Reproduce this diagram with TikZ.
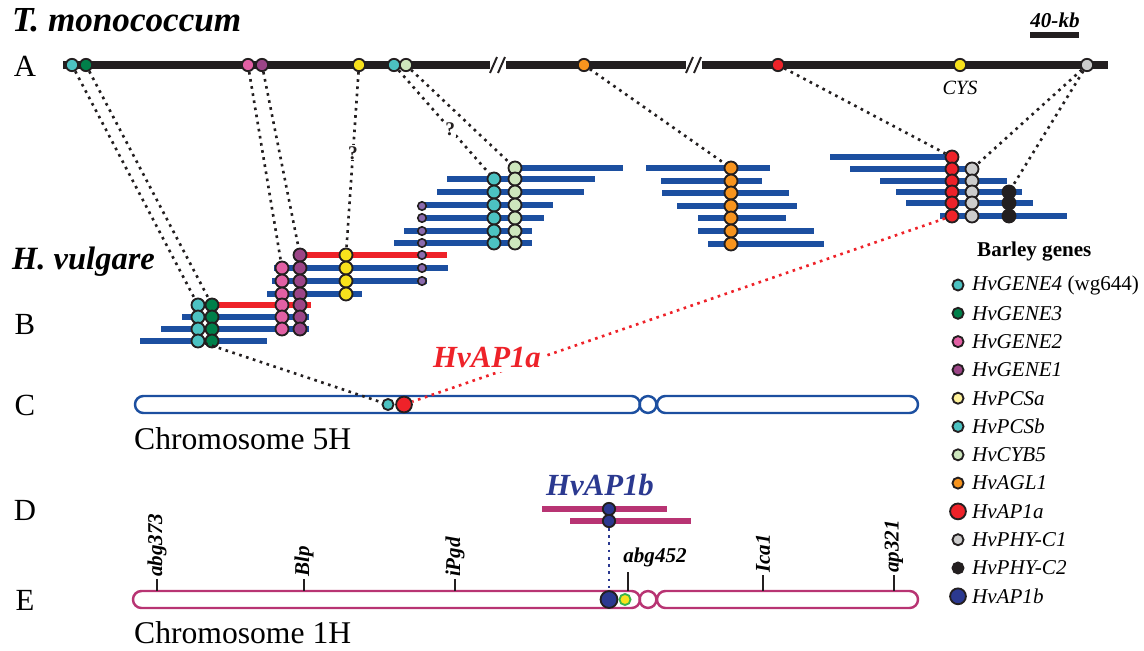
\documentclass[tikz,border=0pt]{standalone}
\usepackage{fontspec}
\setmainfont{Liberation Serif}
\definecolor{cteal}{HTML}{4CC2C2}
\definecolor{cgreen}{HTML}{00804A}
\definecolor{cpink}{HTML}{E260A4}
\definecolor{cpurple}{HTML}{9C4587}
\definecolor{cyellow}{HTML}{F8E21C}
\definecolor{cpale}{HTML}{FFF29A}
\definecolor{clight}{HTML}{CDE6BD}
\definecolor{corange}{HTML}{F7941E}
\definecolor{cred}{HTML}{EE2229}
\definecolor{cgray}{HTML}{CCCCCC}
\definecolor{cblack}{HTML}{231F20}
\definecolor{cnavy}{HTML}{2B3990}
\definecolor{cbac}{HTML}{1C4FA0}
\definecolor{cmag}{HTML}{B83473}
\definecolor{clilac}{HTML}{8B6BAE}
\definecolor{cgreenring}{HTML}{39B54A}
\begin{document}
\begin{tikzpicture}[x=0.02cm,y=-0.02cm,
	dot/.style={circle,draw=cblack,line width=1.05pt,inner sep=0pt,minimum size=7.4pt},
	adot/.style={dot,minimum size=7pt},
	sdot/.style={dot,minimum size=4.8pt,line width=0.9pt},
	ldot/.style={dot,minimum size=6.3pt},
	bdot/.style={dot,minimum size=9pt},
	bac/.style={cbac,line width=3.4pt},
	redbac/.style={cred,line width=3.4pt},
	magbac/.style={cmag,line width=3.4pt},
	chrom/.style={line width=1.4pt,rounded corners=4.8pt},
	conn/.style={cblack,line width=1.5pt,dash pattern=on 1.5pt off 2.6pt},
	rowlab/.style={font=\fontsize{17.5}{18}\selectfont},
	species/.style={font=\fontsize{20}{22}\selectfont\bfseries\itshape,anchor=west},
	marker/.style={font=\fontsize{12}{12}\selectfont\bfseries\itshape,inner sep=1pt},
	keytext/.style={font=\fontsize{12}{12}\selectfont\itshape,inner sep=1pt},
	qmark/.style={font=\fontsize{11}{11}\selectfont\bfseries,fill=white,inner sep=0.5pt}]
\useasboundingbox (0,0) rectangle (1144,650);

% labels
\node[species] (tmono) at (6,20) {T. monococcum};
\node[species,font=\fontsize{18.5}{20}\selectfont\bfseries\itshape] (hvulg) at (6,262) {H. vulgare};
\node[rowlab] (labA) at (25,66) {A};
\node[rowlab] (labB) at (25,324) {B};
\node[rowlab] (labC) at (25,405) {C};
\node[rowlab] (labD) at (25,510) {D};
\node[rowlab] (labE) at (25,600) {E};

% scale bar
\node[marker] (kb) at (1055,20) {40-kb};
\draw[cblack,line width=3.4pt] (1030,35) -- (1079,35);

% T. monococcum contig
\draw[cblack,line width=4pt] (63,65) -- (490,65);
\draw[cblack,line width=4pt] (506,65) -- (686,65);
\draw[cblack,line width=4pt] (702,65) -- (1108,65);
\draw[cblack,line width=1.1pt] (490,73) -- (497,57) (498,73) -- (505,57);
\draw[cblack,line width=1.1pt] (686,73) -- (693,57) (694,73) -- (701,57);
\node[adot,fill=cteal] (aG4) at (72,65) {};
\node[adot,fill=cgreen] (aG3) at (86,65) {};
\node[adot,fill=cpink] (aG2) at (248,65) {};
\node[adot,fill=cpurple] (aG1) at (262,65) {};
\node[adot,fill=cyellow] (aPCSa) at (359,65) {};
\node[adot,fill=cteal] (aPCSb) at (394,65) {};
\node[adot,fill=clight] (aCYB) at (406,65) {};
\node[adot,fill=corange] (aAGL) at (584,65) {};
\node[adot,fill=cred] (aAP) at (778,65) {};
\node[adot,fill=cyellow] (aCYS) at (960,65) {};
\node[adot,fill=cgray] (aPHY) at (1087,65) {};
\node[font=\fontsize{11.5}{12}\selectfont\itshape] (cys) at (960,88) {CYS};

% barley BAC clones
\draw[redbac] (191,305) -- (311,305);
\foreach \y/\a/\b in {317/182/309,329/161/309,341/140/267}
	\draw[bac] (\a,\y) -- (\b,\y);
\draw[redbac] (293,255) -- (447,255);
\foreach \y/\a/\b in {268/274/448,281/272/427,294/267/362}
	\draw[bac] (\a,\y) -- (\b,\y);
\foreach \y/\a/\b in {168/515/623,179/447/595,192/437/584,205/422/553,218/422/544,231/404/532,243/394/532}
	\draw[bac] (\a,\y) -- (\b,\y);
\foreach \y/\a/\b in {168/646/770,181/661/762,193/662/789,206/677/797,218/698/786,231/698/814,244/708/824}
	\draw[bac] (\a,\y) -- (\b,\y);
\foreach \y/\a/\b in {157/830/952,169/850/970,181/880/1007,192/896/1022,203/906/1033,216/940/1067}
	\draw[bac] (\a,\y) -- (\b,\y);

% genes on the BACs
\foreach \y [count=\i] in {305,317,329,341} {
	\node[dot,fill=cteal] (g4-\i) at (198,\y) {};
	\node[dot,fill=cgreen] (g3-\i) at (212,\y) {};
}
\foreach \y [count=\i] in {268,281,294,305,317,329}
	\node[dot,fill=cpink] (g2-\i) at (282,\y) {};
\foreach \y [count=\i] in {255,268,281,294,305,317,329}
	\node[dot,fill=cpurple] (g1-\i) at (300,\y) {};
\foreach \y [count=\i] in {255,268,281,294}
	\node[dot,fill=cyellow] (pa-\i) at (346,\y) {};
\foreach \y [count=\i] in {206,218,231,243,255,268,281}
	\node[sdot,fill=clilac] (sm-\i) at (422,\y) {};
\foreach \y [count=\i] in {179,192,205,218,231,243}
	\node[dot,fill=cteal] (pb-\i) at (494,\y) {};
\foreach \y [count=\i] in {168,179,192,205,218,231,243}
	\node[dot,fill=clight] (cy-\i) at (515,\y) {};
\foreach \y [count=\i] in {168,181,193,206,218,231,244}
	\node[dot,fill=corange] (ag-\i) at (731,\y) {};
\foreach \y [count=\i] in {157,169,181,192,203,216}
	\node[dot,fill=cred] (ap-\i) at (952,\y) {};
\foreach \y [count=\i] in {169,181,192,203,216}
	\node[dot,fill=cgray] (pc-\i) at (972,\y) {};
\foreach \y [count=\i] in {192,203,216}
	\node[dot,fill=cblack] (pk-\i) at (1009,\y) {};

% chromosome 5H
\draw[chrom,cbac] (135,396) rectangle (640,413);
\draw[chrom,cbac] (648,404.5) circle[radius=4.8pt];
\draw[chrom,cbac] (657,396) rectangle (918,413);
\node[ldot,fill=cteal] (cPCS) at (388,404.5) {};
\node[bdot,fill=cred] (cAP) at (404,404.5) {};
\node[anchor=west,font=\fontsize{18}{18}\selectfont] (chr5) at (128,439) {Chromosome 5H};

% orthologue links
\draw[conn] (aG4) -- (g4-1);
\draw[conn] (aG3) -- (g3-1);
\draw[conn] (aG2) -- (g2-1);
\draw[conn] (aG1) -- (g1-1);
\draw[conn] (aPCSa) -- node[qmark,pos=.46] (q1) {?} (pa-1);
\draw[conn] (aPCSb) -- node[qmark,pos=.57] (q2) {?} (pb-1);
\draw[conn] (aCYB) -- (cy-1);
\draw[conn] (aAGL) -- (ag-1);
\draw[conn] (aAP) -- (ap-1);
\draw[conn] (aPHY) -- (pc-1);
\draw[conn] (aPHY) -- (pk-1);
\draw[conn] (g4-4) -- (cPCS);
\draw[conn,cred] (ap-6) -- (cAP);
\node[font=\fontsize{17.5}{18}\selectfont\bfseries\itshape,text=cred,fill=white,inner sep=2pt] (lblAPa) at (487,358) {HvAP1a};

% HvAP1b clones
\node[font=\fontsize{17.5}{18}\selectfont\bfseries\itshape,text=cnavy] (lblAPb) at (600,485) {HvAP1b};
\draw[magbac] (542,509) -- (667,509);
\draw[magbac] (570,521) -- (691,521);
\node[adot,fill=cnavy] (dAP-1) at (609,509) {};
\node[adot,fill=cnavy] (dAP-2) at (609,521) {};

% chromosome 1H
\draw[chrom,cmag] (133,591) rectangle (640,608);
\draw[chrom,cmag] (648,599.5) circle[radius=4.8pt];
\draw[chrom,cmag] (657,591) rectangle (918,608);
\node[bdot,minimum size=9.6pt,fill=cnavy] (eAP) at (609,599.5) {};
\node[ldot,draw=cgreenring,fill=cyellow] (ePCS) at (625,599.5) {};
\draw[conn,cnavy,line width=1.3pt] (dAP-2) -- (eAP);
\foreach \x/\t/\h in {157/abg373/579,304/Blp/579,455/iPgd/579,763/Ica1/575,894/ap321/575} {
	\draw[cblack,line width=1pt] (\x,591) -- (\x,\h);
	\node[marker,rotate=90,anchor=west] (m-\t) at (\x,\h) {\t};
}
\draw[cblack,line width=1pt] (628,591) -- (628,572);
\node[marker] (m-abg452) at (655,557) {abg452};
\node[anchor=west,font=\fontsize{18}{18}\selectfont] (chr1) at (128,633) {Chromosome 1H};

% key
\node[font=\fontsize{12}{12}\selectfont\bfseries,anchor=west] (keyhead) at (971,252) {Barley genes};
\foreach \c/\s/\t [count=\i] in {
	cteal/ldot/{HvGENE4 \textup{(wg644)}},
	cgreen/ldot/HvGENE3,
	cpink/ldot/HvGENE2,
	cpurple/ldot/HvGENE1,
	cpale/ldot/HvPCSa,
	cteal/ldot/HvPCSb,
	clight/ldot/HvCYB5,
	corange/ldot/HvAGL1,
	cred/bdot/HvAP1a,
	cgray/ldot/HvPHY-C1,
	cblack/ldot/HvPHY-C2,
	cnavy/bdot/HvAP1b} {
	\node[\s,fill=\c] (key\i) at (958,{285+28.3*(\i-1)}) {};
	\node[keytext,anchor=west] (keyt\i) at (970,{285+28.3*(\i-1)}) {\t};
}
\end{tikzpicture}
\end{document}
